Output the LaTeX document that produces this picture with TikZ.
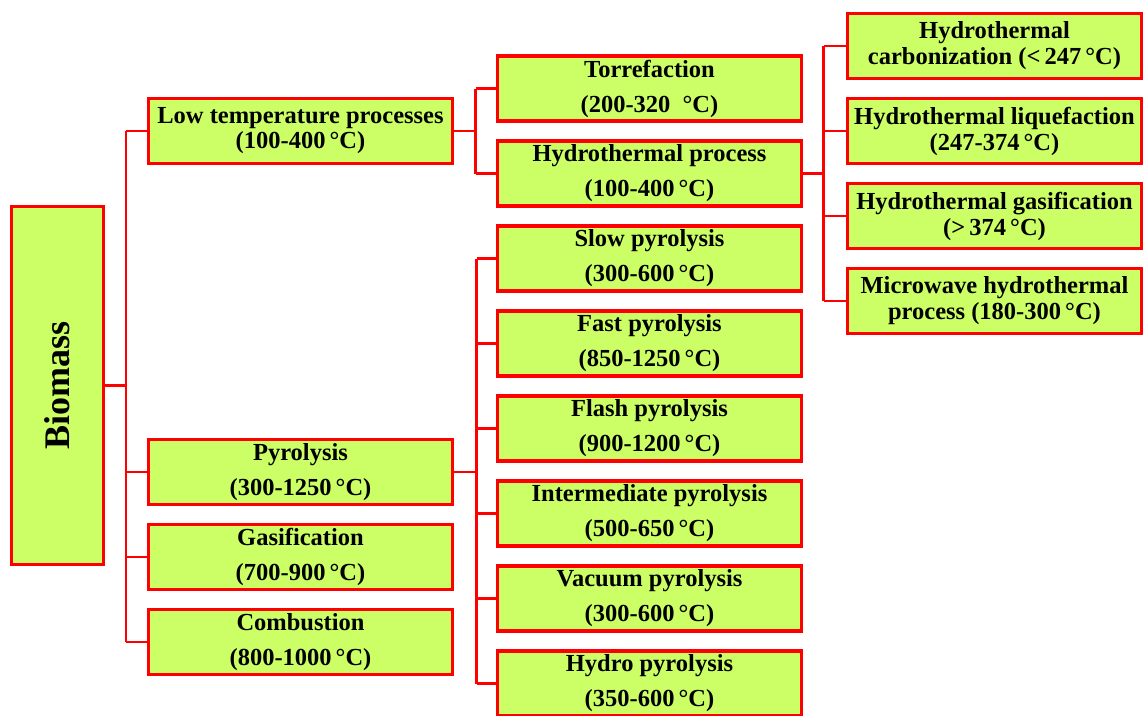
\documentclass[tikz,border=0pt]{standalone}
\usepackage{fontspec}
\setmainfont{Liberation Serif}
\definecolor{boxfill}{RGB}{204,255,102}
\definecolor{boxred}{RGB}{255,0,0}
\begin{document}
\begin{tikzpicture}[x=1pt,y=-1pt,
  box/.style={draw=boxred, fill=boxfill, line width=3.3pt, inner sep=0pt, align=center, text=black,
    font=\bfseries\fontsize{24.5}{35}\selectfont},
  tight/.style={font=\bfseries\fontsize{24.5}{26}\selectfont},
  lvl/.style={box, minimum width=304, minimum height=65},
  lvlc/.style={box, tight, minimum width=294, minimum height=65},
  conn/.style={draw=boxred, line width=2.8pt}]
\clip (0,0) rectangle (1143,715);
% root
\node[box, minimum width=92, minimum height=358] (bio) at (57.5,385.5)
  {\rotatebox{90}{\fontsize{36}{40}\selectfont Biomass}};
% level 1
\node[lvl, font=\bfseries\fontsize{24.5}{25}\selectfont] (low) at (300.5,131) {Low temperature processes\\(100-400\,°C)};
\node[lvl] (pyr)  at (300.5,472) {Pyrolysis\\(300-1250\,°C)};
\node[lvl] (gas)  at (300.5,557) {Gasification\\(700-900\,°C)};
\node[lvl] (comb) at (300.5,642) {Combustion\\(800-1000\,°C)};
% level 2
\node[lvl] (tor)   at (649.5,88.5)  {Torrefaction\\(200-320 \ °C)};
\node[lvl] (hyd)   at (649.5,173.5) {Hydrothermal process\\(100-400\,°C)};
\node[lvl] (slow)  at (649.5,258.5) {Slow pyrolysis\\(300-600\,°C)};
\node[lvl] (fast)  at (649.5,343.5) {Fast pyrolysis\\(850-1250\,°C)};
\node[lvl] (flash) at (649.5,428.5) {Flash pyrolysis\\(900-1200\,°C)};
\node[lvl] (inter) at (649.5,513.5) {Intermediate pyrolysis\\(500-650\,°C)};
\node[lvl] (vac)   at (649.5,598.5) {Vacuum pyrolysis\\(300-600\,°C)};
\node[lvl] (hpy)   at (649.5,683.5) {Hydro pyrolysis\\(350-600\,°C)};
% level 3
\node[lvlc] (hc) at (994.5,46)  {Hydrothermal\\carbonization (<\,247\,°C)};
\node[lvlc] (hl) at (994.5,131) {Hydrothermal liquefaction\\(247-374\,°C)};
\node[lvlc] (hg) at (994.5,216) {Hydrothermal gasification\\(>\,374\,°C)};
\node[lvlc] (mw) at (994.5,301) {Microwave hydrothermal\\process (180-300\,°C)};
% junction columns
\coordinate (j0) at (126,0);
\coordinate (j1) at (475.5,0);
\coordinate (j2) at (476.5,0);
\coordinate (j3) at (823.5,0);
% connectors
\draw[conn] (bio.east) -- (bio.east -| j0);
\draw[conn] (j0 |- low.west) -- (j0 |- comb.west);
\foreach \n in {low,pyr,gas,comb} \draw[conn] (j0 |- \n.west) -- (\n.west);
\draw[conn] (low.east) -- (low.east -| j1);
\draw[conn] (j1 |- tor.west) -- (j1 |- hyd.west);
\foreach \n in {tor,hyd} \draw[conn] (j1 |- \n.west) -- (\n.west);
\draw[conn] (pyr.east) -- (pyr.east -| j2);
\draw[conn] (j2 |- slow.west) -- (j2 |- hpy.west);
\foreach \n in {slow,fast,flash,inter,vac,hpy} \draw[conn] (j2 |- \n.west) -- (\n.west);
\draw[conn] (hyd.east) -- (hyd.east -| j3);
\draw[conn] (j3 |- hc.west) -- (j3 |- mw.west);
\foreach \n in {hc,hl,hg,mw} \draw[conn] (j3 |- \n.west) -- (\n.west);
\end{tikzpicture}
\end{document}
